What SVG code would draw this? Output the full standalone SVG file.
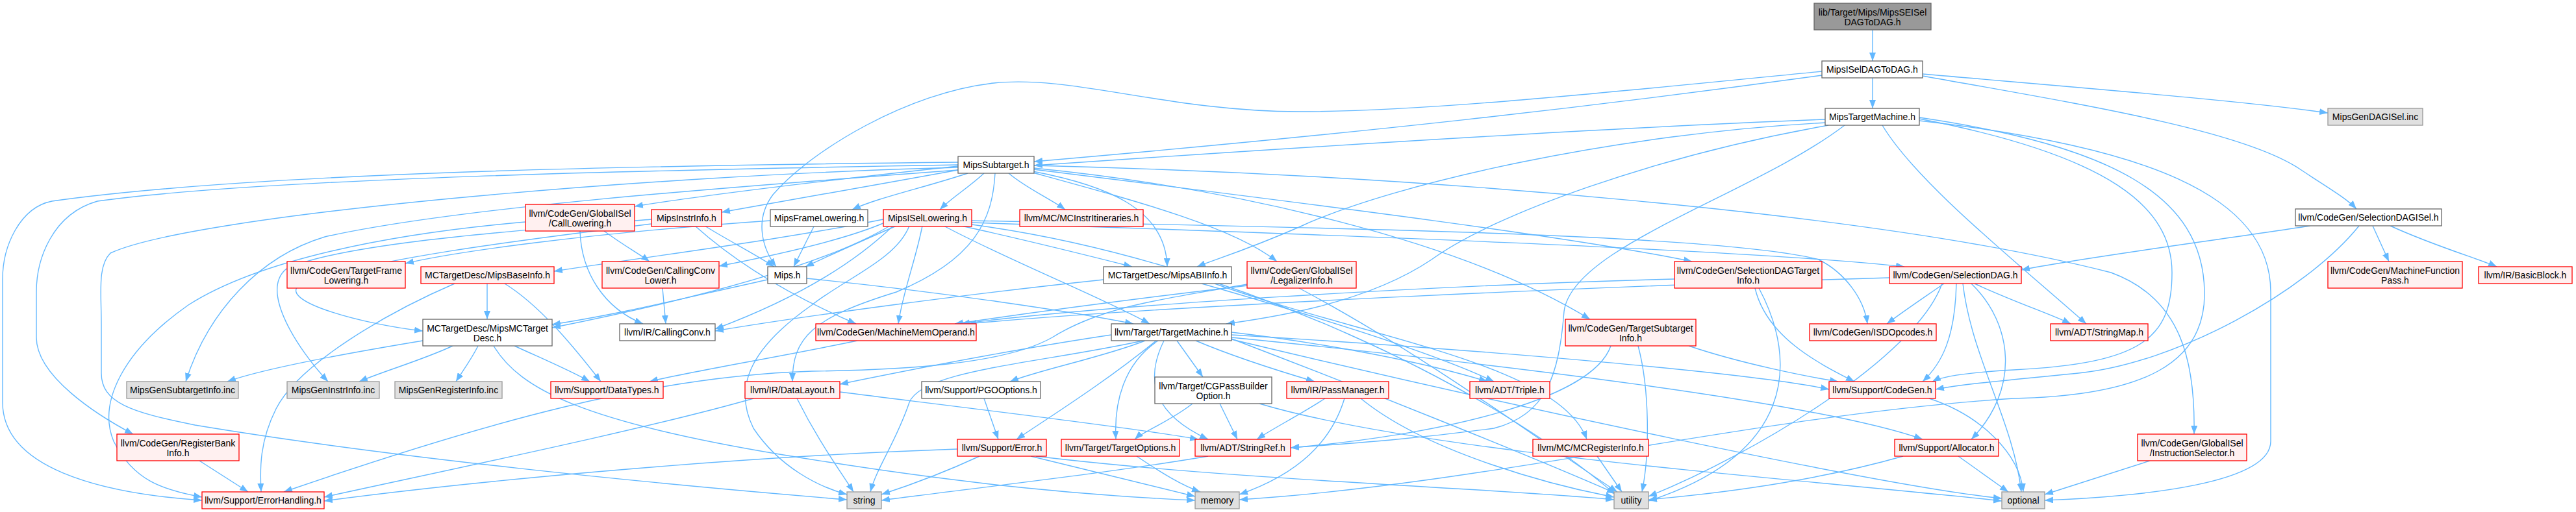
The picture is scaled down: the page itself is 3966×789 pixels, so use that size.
<svg xmlns="http://www.w3.org/2000/svg" width="3966" height="789" viewBox="0 0 3966 789">
<style>
.bg{fill:#ffffff}
.nd rect{stroke-width:1.3}
.r rect{fill:#fff0f0;stroke:#ff0000}
.w rect{fill:#ffffff;stroke:#666666}
.g rect{fill:#e0e0e0;stroke:#999999}
.root rect{fill:#999999;stroke:#666666}
text{font-family:"Liberation Sans",Arial,sans-serif;font-size:14px;fill:#000000;text-anchor:middle}
#edges path{fill:none;stroke:#63b8ff;stroke-width:1.4;marker-end:url(#ah)}
</style>
<defs>
<marker id="ah" markerUnits="userSpaceOnUse" markerWidth="14" markerHeight="10" refX="13" refY="5" orient="auto">
<path d="M0,0 L13,5 L0,10 z" fill="#63b8ff"/>
</marker>
</defs>
<rect class="bg" x="0" y="0" width="3966" height="789"/>
<g id="edges">
<path d="M2883,46 L2883,94"/>
<path d="M2883,120 L2883,167"/>
<path d="M2960,114 C3200,135 3450,155 3584,174"/>
<path d="M2960,117 C3200,160 3450,200 3540,260 C3585,290 3612,305 3628,322"/>
<path d="M2805,116 C2450,165 2100,205 1592,249"/>
<path d="M2805,110 C2500,140 2200,172 2000,172 C1800,172 1650,115 1530,128 C1400,142 1250,230 1190,300 C1160,340 1175,385 1195,411"/>
<path d="M2810,184 C2500,196 2100,220 1592,255"/>
<path d="M2812,189 C2500,205 2150,280 2000,350 C1920,385 1870,400 1843,411"/>
<path d="M2815,193 C2550,240 2300,330 2204,400 C2100,470 1950,490 1888,499"/>
<path d="M2840,193 C2700,300 2420,380 2408,480 C2400,580 2380,640 2300,660 C2150,680 2050,685 1987,690"/>
<path d="M2898,193 C2950,280 3100,400 3212,499"/>
<path d="M2955,183 C3250,240 3344,320 3344,420 C3344,520 3300,560 3100,570 C3030,574 2990,580 2975,588"/>
<path d="M2955,181 C3250,225 3392,300 3394,450 C3396,560 3300,610 3100,614 C2700,640 2300,745 1908,770"/>
<path d="M2955,186 C3300,225 3496,300 3496,450 L3496,680 C3496,745 3300,765 3148,771"/>
<path d="M1475,250 C1000,255 400,265 80,310 C30,320 4,380 4,430 L4,620 C4,720 150,760 311,771"/>
<path d="M1475,254 C1000,262 400,275 150,310 C80,330 56,400 56,450 L56,520 C56,580 150,640 205,669"/>
<path d="M1475,258 C1000,270 300,330 170,390 C150,410 156,450 156,500 L156,575 C156,620 200,635 300,655 C600,705 1000,745 1304,770"/>
<path d="M1475,262 C1100,290 700,320 500,365 C400,395 320,480 286,588"/>
<path d="M1475,256 C1300,275 1100,298 977,318"/>
<path d="M1475,262 C1350,285 1200,310 1111,327"/>
<path d="M1490,267 C1420,290 1350,305 1312,323"/>
<path d="M1515,267 C1490,290 1465,305 1447,323"/>
<path d="M1553,267 C1580,290 1615,305 1640,323"/>
<path d="M1532,267 C1528,340 1500,400 1380,450 C1250,490 1220,520 1220,588"/>
<path d="M1590,264 C1700,285 1795,320 1797,411"/>
<path d="M1590,266 C1750,310 1900,350 1966,403"/>
<path d="M1592,261 C1900,300 2400,360 2605,403"/>
<path d="M1592,259 C1900,290 2250,370 2448,492"/>
<path d="M1592,255 C2200,270 2900,330 3250,420 C3360,460 3380,560 3378,669"/>
<path d="M1400,348 C1380,400 1300,430 1250,470 C1150,540 1130,600 1160,660 C1200,720 1260,750 1304,762"/>
<path d="M1360,338 C1200,370 1000,395 853,418"/>
<path d="M1362,343 C1300,370 1200,392 1107,410"/>
<path d="M1380,348 C1330,370 1280,392 1240,411"/>
<path d="M1370,348 C1250,420 1000,475 850,505"/>
<path d="M1375,348 C1300,420 1200,470 1101,507"/>
<path d="M1420,348 C1410,400 1390,450 1383,499"/>
<path d="M1453,348 C1550,400 1700,460 1770,499"/>
<path d="M1480,348 C1580,370 1680,395 1743,411"/>
<path d="M1496,340 C2000,350 2650,360 2800,400 C2840,420 2870,460 2875,499"/>
<path d="M1496,343 C2000,360 2700,385 2932,411"/>
<path d="M1496,346 C1900,400 2300,600 2487,762"/>
<path d="M1182,431 C1050,460 950,485 850,500"/>
<path d="M1242,429 C1450,450 1650,480 1745,499"/>
<path d="M1085,348 C1120,370 1160,390 1192,411"/>
<path d="M1070,348 C1150,420 1250,470 1318,499"/>
<path d="M1003,338 C800,355 520,375 440,415 C400,450 460,540 505,588"/>
<path d="M1003,345 C800,370 560,400 460,440 C430,465 560,500 651,510"/>
<path d="M930,356 C960,378 985,392 1000,403"/>
<path d="M893,356 C895,420 930,475 990,499"/>
<path d="M809,342 C600,360 400,400 290,470 C190,540 150,620 175,680 C205,740 250,755 311,766"/>
<path d="M1186,340 C900,360 700,388 624,406"/>
<path d="M1253,349 C1240,375 1230,395 1222,411"/>
<path d="M750,437 L750,492"/>
<path d="M777,437 C830,470 880,530 925,588"/>
<path d="M700,437 C600,480 460,560 425,630 C400,680 400,720 402,758"/>
<path d="M651,525 C500,550 400,570 350,588"/>
<path d="M697,533 C650,555 590,572 553,588"/>
<path d="M736,533 C725,555 712,572 702,588"/>
<path d="M792,533 C840,555 880,572 908,588"/>
<path d="M760,533 C800,600 900,650 1200,700 C1500,750 1700,765 1840,771"/>
<path d="M1020,444 L1025,499"/>
<path d="M1699,431 C1500,452 1250,485 1101,510"/>
<path d="M1850,437 C2000,480 2200,540 2300,588"/>
<path d="M1870,437 C2100,520 2400,560 2443,677"/>
<path d="M1921,440 C1750,460 1600,480 1470,499"/>
<path d="M1920,438 C1800,460 1700,470 1620,520 C1550,560 1400,570 1250,572 C1000,580 750,650 437,758"/>
<path d="M2000,444 C2200,550 2400,700 2490,758"/>
<path d="M1320,525 C1200,550 1050,575 1000,588"/>
<path d="M1763,525 C1700,550 1600,570 1555,588"/>
<path d="M1780,525 C1700,590 1620,640 1565,677"/>
<path d="M1783,525 C1730,560 1715,620 1718,677"/>
<path d="M1792,525 C1760,590 1780,640 1860,677"/>
<path d="M1812,525 L1852,581"/>
<path d="M1841,525 C1900,550 1980,575 2024,588"/>
<path d="M1896,512 C2050,530 2200,560 2290,588"/>
<path d="M1711,516 C1550,540 1400,570 1293,592"/>
<path d="M1760,525 C1600,560 1420,570 1400,620 C1380,680 1350,720 1340,758"/>
<path d="M1896,520 C2300,560 2800,620 2960,677"/>
<path d="M1896,516 C2300,540 2700,575 2816,600"/>
<path d="M1896,523 C2300,620 2900,750 3082,768"/>
<path d="M1896,522 C2100,600 2350,700 2487,760"/>
<path d="M1878,622 L1905,677"/>
<path d="M1836,622 C1800,650 1760,665 1747,677"/>
<path d="M1939,622 C2200,700 2800,740 3082,772"/>
<path d="M1515,614 L1537,677"/>
<path d="M2040,614 C2000,640 1960,660 1935,677"/>
<path d="M2070,614 C2050,680 2000,730 1908,762"/>
<path d="M2095,614 C2200,700 2400,750 2485,766"/>
<path d="M1474,692 C1100,705 700,745 499,772"/>
<path d="M1508,703 C1450,730 1400,748 1357,762"/>
<path d="M1587,703 C1700,730 1780,750 1840,765"/>
<path d="M1595,703 C1900,740 2300,752 2485,770"/>
<path d="M1750,703 C1790,730 1820,748 1848,758"/>
<path d="M1860,703 C1700,730 1500,752 1357,771"/>
<path d="M1227,614 C1260,680 1290,720 1314,758"/>
<path d="M1160,614 C1000,660 700,722 499,766"/>
<path d="M1293,604 C1500,630 1750,660 1845,677"/>
<path d="M2480,533 C2450,620 2200,672 1987,690"/>
<path d="M2522,533 C2540,600 2540,700 2528,758"/>
<path d="M2600,533 C2680,560 2780,580 2830,588"/>
<path d="M2702,444 C2720,520 2800,560 2855,588"/>
<path d="M2708,444 C2770,560 2760,700 2538,772"/>
<path d="M2578,430 C2200,440 1700,470 1480,499"/>
<path d="M2993,437 C2960,460 2930,480 2905,499"/>
<path d="M3040,437 C3100,465 3160,485 3188,499"/>
<path d="M3012,437 C3010,520 2990,560 2960,588"/>
<path d="M3035,437 C3100,500 3110,600 3035,677"/>
<path d="M3022,437 C3035,550 3100,650 3112,758"/>
<path d="M2909,428 C2500,440 1800,470 1490,499"/>
<path d="M2990,437 C2950,550 2700,700 2538,765"/>
<path d="M3557,348 C3400,372 3200,398 3112,416"/>
<path d="M3653,348 L3678,403"/>
<path d="M3680,348 C3750,380 3820,400 3844,411"/>
<path d="M3632,348 C3550,450 3350,560 3200,575 C3100,585 3020,592 2980,600"/>
<path d="M3015,703 L3092,758"/>
<path d="M2930,703 C2800,740 2650,760 2538,770"/>
<path d="M3310,710 L3148,762"/>
<path d="M2970,614 C3050,640 3110,700 3115,758"/>
<path d="M2459,703 L2497,758"/>
<path d="M307,710 L382,758"/>
</g>
<g id="n_root" class="nd root"><rect x="2793" y="5" width="180" height="41"/><text x="2883" y="24">lib/Target/Mips/MipsSEISel</text><text x="2883" y="39">DAGToDAG.h</text></g>
<g id="n_iseldag" class="nd w"><rect x="2805" y="94" width="155" height="26"/><text x="2882.5" y="112">MipsISelDAGToDAG.h</text></g>
<g id="n_tm" class="nd w"><rect x="2810" y="167" width="145" height="26"/><text x="2882.5" y="185">MipsTargetMachine.h</text></g>
<g id="n_gendag" class="nd g"><rect x="3584" y="167" width="146" height="26"/><text x="3657" y="185">MipsGenDAGISel.inc</text></g>
<g id="n_sub" class="nd w"><rect x="1475" y="241" width="117" height="26"/><text x="1533.5" y="259">MipsSubtarget.h</text></g>
<g id="n_dagisel" class="nd w"><rect x="3534" y="322" width="225" height="26"/><text x="3646.5" y="340">llvm/CodeGen/SelectionDAGISel.h</text></g>
<g id="n_calllow" class="nd r"><rect x="809" y="315" width="168" height="41"/><text x="893" y="334">llvm/CodeGen/GlobalISel</text><text x="893" y="349">/CallLowering.h</text></g>
<g id="n_instrinfo" class="nd r"><rect x="1003" y="323" width="108" height="26"/><text x="1057" y="341">MipsInstrInfo.h</text></g>
<g id="n_framelow" class="nd w"><rect x="1186" y="323" width="150" height="26"/><text x="1261" y="341">MipsFrameLowering.h</text></g>
<g id="n_isellow" class="nd r"><rect x="1360" y="323" width="136" height="26"/><text x="1428" y="341">MipsISelLowering.h</text></g>
<g id="n_itin" class="nd r"><rect x="1570" y="323" width="190" height="26"/><text x="1665" y="341">llvm/MC/MCInstrItineraries.h</text></g>
<g id="n_tfl" class="nd r"><rect x="442" y="403" width="182" height="41"/><text x="533" y="422">llvm/CodeGen/TargetFrame</text><text x="533" y="437">Lowering.h</text></g>
<g id="n_baseinfo" class="nd r"><rect x="648" y="411" width="205" height="26"/><text x="750.5" y="429">MCTargetDesc/MipsBaseInfo.h</text></g>
<g id="n_ccl" class="nd r"><rect x="927" y="403" width="180" height="41"/><text x="1017" y="422">llvm/CodeGen/CallingConv</text><text x="1017" y="437">Lower.h</text></g>
<g id="n_mips" class="nd w"><rect x="1182" y="411" width="60" height="26"/><text x="1212" y="429">Mips.h</text></g>
<g id="n_abi" class="nd w"><rect x="1699" y="411" width="197" height="26"/><text x="1797.5" y="429">MCTargetDesc/MipsABIInfo.h</text></g>
<g id="n_legal" class="nd r"><rect x="1920" y="403" width="168" height="41"/><text x="2004" y="422">llvm/CodeGen/GlobalISel</text><text x="2004" y="437">/LegalizerInfo.h</text></g>
<g id="n_sdti" class="nd r"><rect x="2578" y="403" width="227" height="41"/><text x="2691.5" y="422">llvm/CodeGen/SelectionDAGTarget</text><text x="2691.5" y="437">Info.h</text></g>
<g id="n_sdag" class="nd r"><rect x="2909" y="411" width="203" height="26"/><text x="3010.5" y="429">llvm/CodeGen/SelectionDAG.h</text></g>
<g id="n_mfp" class="nd r"><rect x="3584" y="403" width="207" height="41"/><text x="3687.5" y="422">llvm/CodeGen/MachineFunction</text><text x="3687.5" y="437">Pass.h</text></g>
<g id="n_bb" class="nd r"><rect x="3816" y="411" width="144" height="26"/><text x="3888" y="429">llvm/IR/BasicBlock.h</text></g>
<g id="n_mcdesc" class="nd w"><rect x="651" y="492" width="199" height="41"/><text x="750.5" y="511">MCTargetDesc/MipsMCTarget</text><text x="750.5" y="526">Desc.h</text></g>
<g id="n_cc" class="nd w"><rect x="954" y="499" width="147" height="26"/><text x="1027.5" y="517">llvm/IR/CallingConv.h</text></g>
<g id="n_mmo" class="nd r"><rect x="1256" y="499" width="247" height="26"/><text x="1379.5" y="517">llvm/CodeGen/MachineMemOperand.h</text></g>
<g id="n_ttm" class="nd w"><rect x="1711" y="499" width="185" height="26"/><text x="1803.5" y="517">llvm/Target/TargetMachine.h</text></g>
<g id="n_tsi" class="nd r"><rect x="2410" y="492" width="201" height="41"/><text x="2510.5" y="511">llvm/CodeGen/TargetSubtarget</text><text x="2510.5" y="526">Info.h</text></g>
<g id="n_isd" class="nd r"><rect x="2786" y="499" width="195" height="26"/><text x="2883.5" y="517">llvm/CodeGen/ISDOpcodes.h</text></g>
<g id="n_smap" class="nd r"><rect x="3157" y="499" width="150" height="26"/><text x="3232" y="517">llvm/ADT/StringMap.h</text></g>
<g id="n_gensub" class="nd g"><rect x="195" y="588" width="172" height="26"/><text x="281" y="606">MipsGenSubtargetInfo.inc</text></g>
<g id="n_geninstr" class="nd g"><rect x="442" y="588" width="142" height="26"/><text x="513" y="606">MipsGenInstrInfo.inc</text></g>
<g id="n_genreg" class="nd g"><rect x="608" y="588" width="165" height="26"/><text x="690.5" y="606">MipsGenRegisterInfo.inc</text></g>
<g id="n_dtypes" class="nd r"><rect x="848" y="588" width="173" height="26"/><text x="934.5" y="606">llvm/Support/DataTypes.h</text></g>
<g id="n_dl" class="nd r"><rect x="1147" y="588" width="146" height="26"/><text x="1220" y="606">llvm/IR/DataLayout.h</text></g>
<g id="n_pgo" class="nd w"><rect x="1419" y="588" width="183" height="26"/><text x="1510.5" y="606">llvm/Support/PGOOptions.h</text></g>
<g id="n_cgpb" class="nd w"><rect x="1778" y="581" width="180" height="41"/><text x="1868" y="600">llvm/Target/CGPassBuilder</text><text x="1868" y="615">Option.h</text></g>
<g id="n_pm" class="nd r"><rect x="1981" y="588" width="157" height="26"/><text x="2059.5" y="606">llvm/IR/PassManager.h</text></g>
<g id="n_triple" class="nd r"><rect x="2263" y="588" width="123" height="26"/><text x="2324.5" y="606">llvm/ADT/Triple.h</text></g>
<g id="n_cg" class="nd r"><rect x="2816" y="588" width="164" height="26"/><text x="2898" y="606">llvm/Support/CodeGen.h</text></g>
<g id="n_rbi" class="nd r"><rect x="180" y="669" width="188" height="41"/><text x="274" y="688">llvm/CodeGen/RegisterBank</text><text x="274" y="703">Info.h</text></g>
<g id="n_err" class="nd r"><rect x="1474" y="677" width="137" height="26"/><text x="1542.5" y="695">llvm/Support/Error.h</text></g>
<g id="n_topt" class="nd r"><rect x="1634" y="677" width="182" height="26"/><text x="1725" y="695">llvm/Target/TargetOptions.h</text></g>
<g id="n_sref" class="nd r"><rect x="1840" y="677" width="147" height="26"/><text x="1913.5" y="695">llvm/ADT/StringRef.h</text></g>
<g id="n_mcri" class="nd r"><rect x="2360" y="677" width="178" height="26"/><text x="2449" y="695">llvm/MC/MCRegisterInfo.h</text></g>
<g id="n_alloc" class="nd r"><rect x="2917" y="677" width="160" height="26"/><text x="2997" y="695">llvm/Support/Allocator.h</text></g>
<g id="n_isel" class="nd r"><rect x="3291" y="669" width="168" height="41"/><text x="3375" y="688">llvm/CodeGen/GlobalISel</text><text x="3375" y="703">/InstructionSelector.h</text></g>
<g id="n_eh" class="nd r"><rect x="311" y="758" width="188" height="26"/><text x="405" y="776">llvm/Support/ErrorHandling.h</text></g>
<g id="n_string" class="nd g"><rect x="1304" y="758" width="53" height="26"/><text x="1330.5" y="776">string</text></g>
<g id="n_memory" class="nd g"><rect x="1840" y="758" width="68" height="26"/><text x="1874" y="776">memory</text></g>
<g id="n_utility" class="nd g"><rect x="2485" y="758" width="53" height="26"/><text x="2511.5" y="776">utility</text></g>
<g id="n_optional" class="nd g"><rect x="3082" y="758" width="66" height="26"/><text x="3115" y="776">optional</text></g>
</svg>
